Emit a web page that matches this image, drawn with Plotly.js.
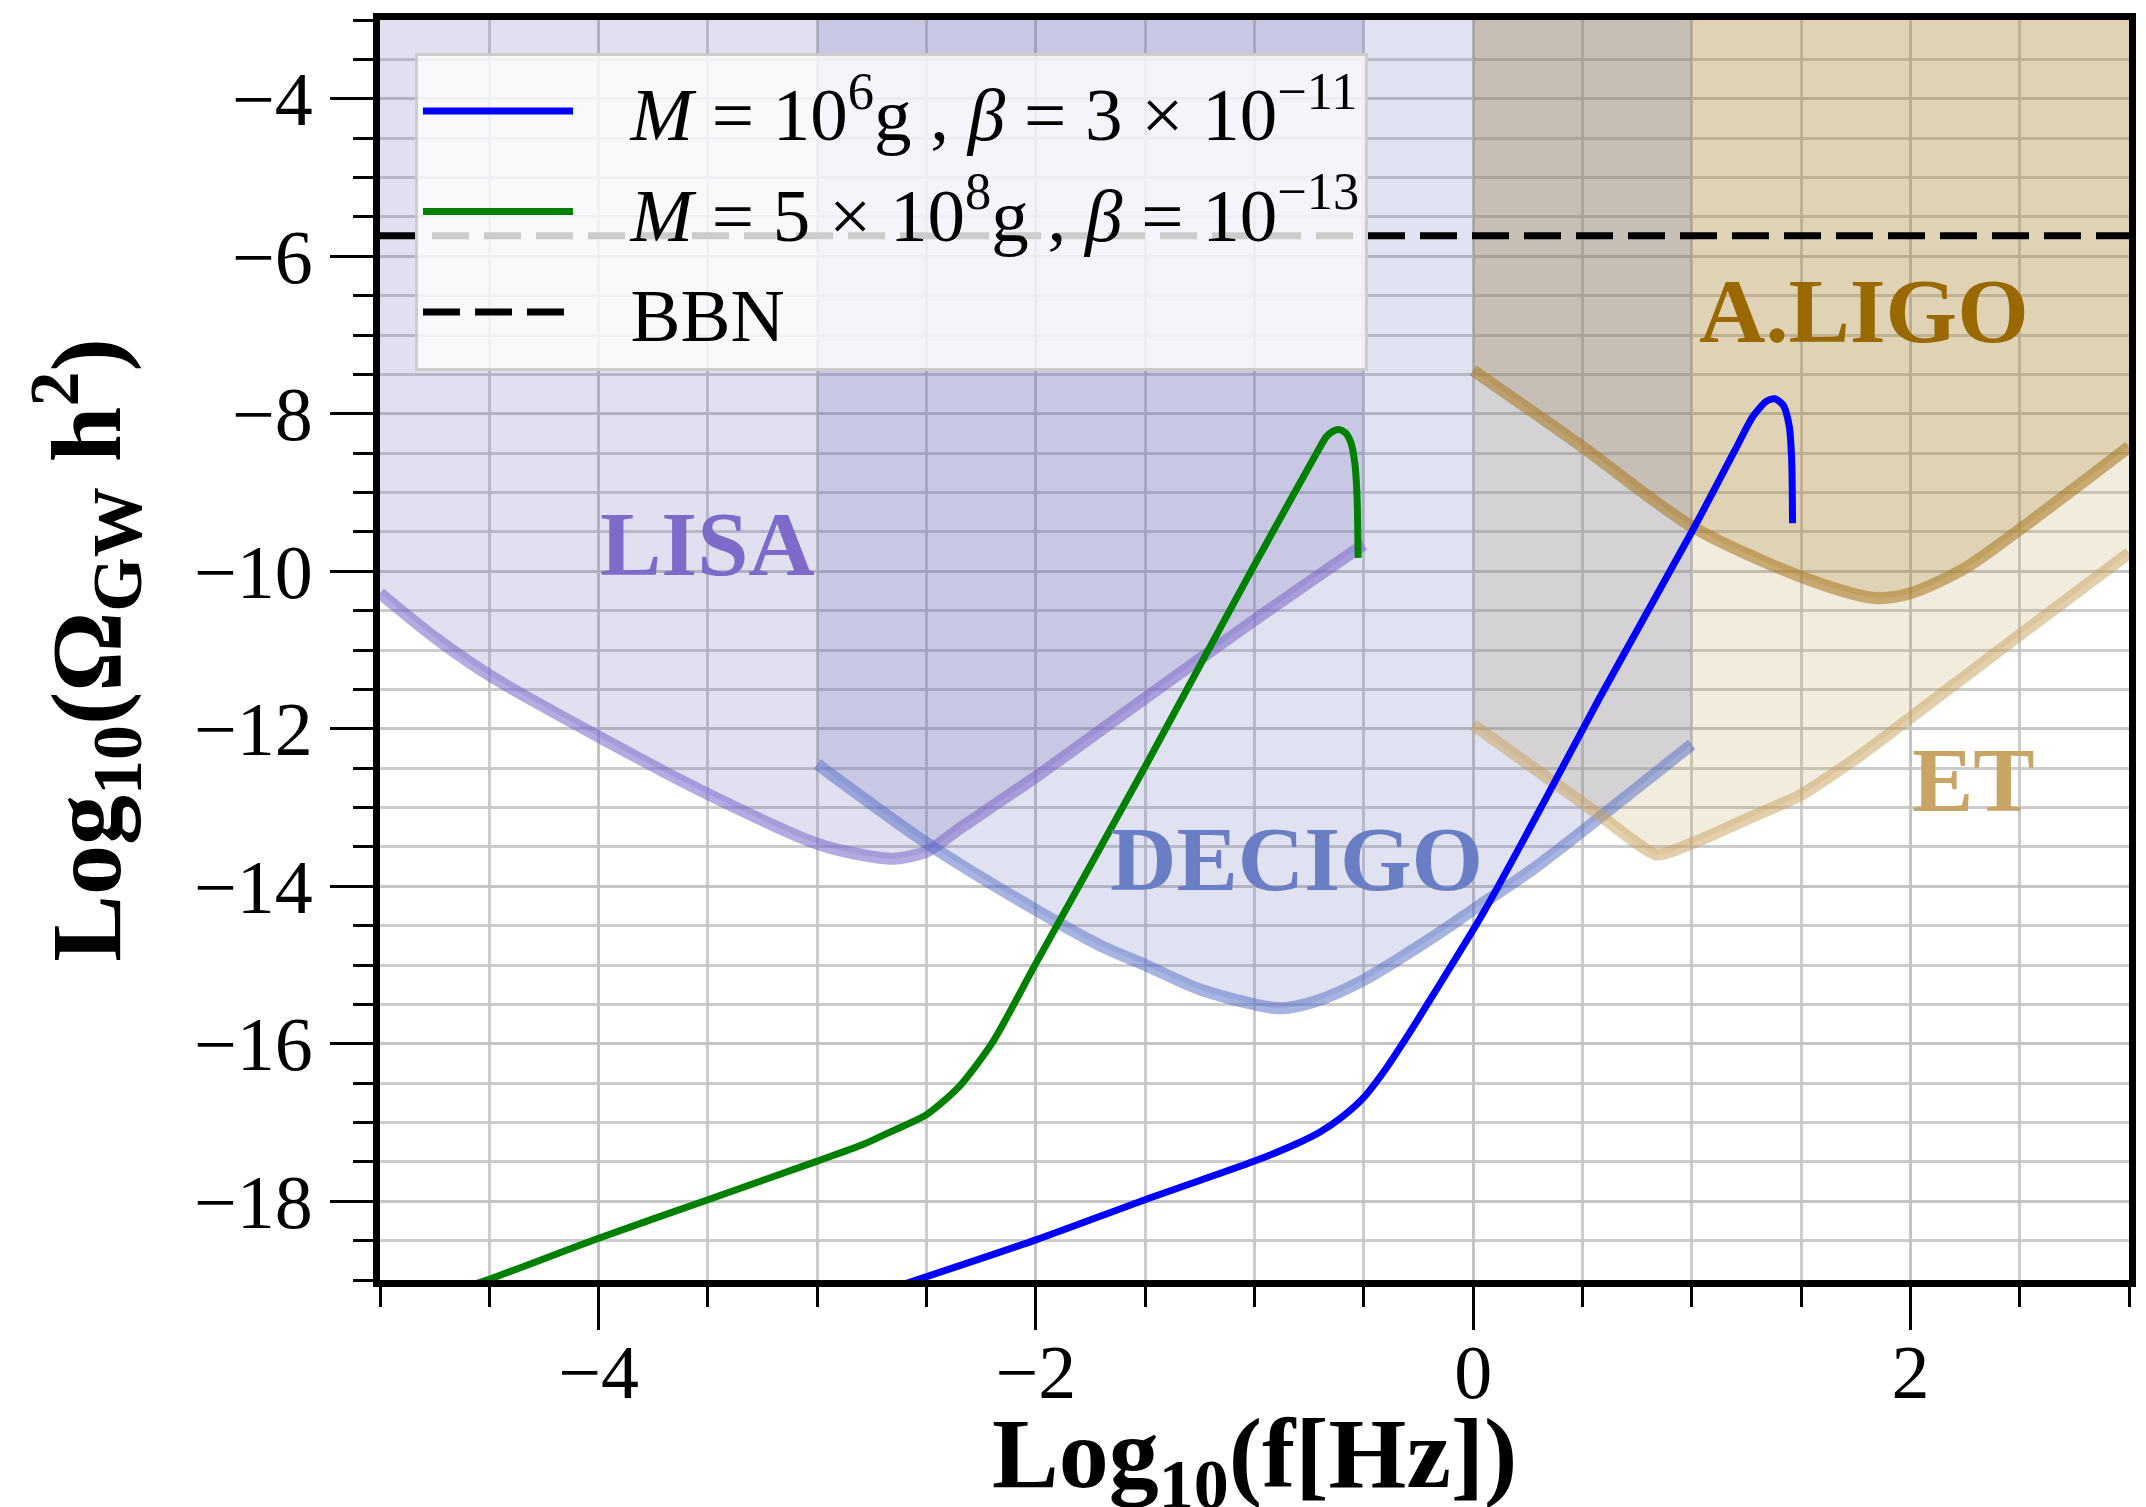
<!DOCTYPE html>
<html><head><meta charset="utf-8">
<script src="https://cdn.plot.ly/plotly-3.0.1.min.js"></script>
<style>html,body{margin:0;padding:0;background:#fff;} #chart{width:2146px;height:1507px;}</style>
</head><body><div id="chart"></div>
<script>
// ---- axis ranges (log10 units) ----
const xRange = [-5, 3];
const yRange = [-19, -3];
const xTickVals = [-4, -2, 0, 2];
const yTickVals = [-18, -16, -14, -12, -10, -8, -6, -4];

// ---- detector sensitivity curves ----
const lisaX = [-5, -4.75, -4.5, -4, -3.5, -3, -2.8, -2.65, -2.5, -2.35, -2.0, -1.5, -1.0, -0.5];
const lisaY = [-10.28, -10.84, -11.32, -12.10, -12.83, -13.46, -13.6, -13.65, -13.56, -13.27, -12.61, -11.61, -10.62, -9.66];

const decigoX = [-3, -2.5, -2.0, -1.7, -1.5, -1.25, -1.0, -0.88, -0.72, -0.5, -0.18, 0, 0.27, 0.5, 1.0];
const decigoY = [-12.45, -13.45, -14.3, -14.76, -15.0, -15.31, -15.5, -15.55, -15.46, -15.19, -14.64, -14.3, -13.79, -13.3, -12.2];

const ligoX = [0, 0.5, 1.0, 1.5, 1.84, 2.0, 2.25, 2.5, 3.0];
const ligoY = [-7.45, -8.42, -9.43, -10.07, -10.34, -10.28, -9.96, -9.47, -8.42];

const etX = [0, 0.58, 0.84, 1.04, 1.25, 1.5, 1.75, 2.0, 2.5, 3.0];
const etY = [-11.95, -13.1, -13.6, -13.41, -13.15, -12.84, -12.38, -11.86, -10.81, -9.77];

// ---- GW spectra ----
const blueX = [-2.6, -2.0, -1.5, -1.0, -0.8, -0.7, -0.6, -0.5, -0.4, -0.3, -0.183, 0.046, 0.33, 0.58, 1.006, 1.2, 1.281, 1.342, 1.38, 1.418, 1.446, 1.457, 1.461];
const blueY = [-19.05, -18.49, -17.98, -17.49, -17.26, -17.12, -16.93, -16.68, -16.32, -15.9, -15.38, -14.34, -12.9, -11.6, -9.47, -8.45, -8.03, -7.84, -7.81, -7.89, -8.16, -8.58, -9.39];

const greenX = [-4.6, -4.5, -4.0, -3.5, -3.0, -2.8, -2.65, -2.5, -2.35, -2.2, -2.0, -1.5, -1.02, -0.716, -0.671, -0.64, -0.615, -0.585, -0.56, -0.541, -0.531, -0.526];
const greenY = [-19.08, -18.99, -18.47, -17.98, -17.49, -17.29, -17.1, -16.9, -16.54, -15.99, -14.98, -12.48, -10.02, -8.5, -8.29, -8.22, -8.2, -8.24, -8.36, -8.63, -9.05, -9.83];

// ---- BBN bound ----
const bbnX = [-5, 3];
const bbnY = [-5.74, -5.74];

// ---- labels ----
const legendNames = [
  '\u2002\u2009<i>M</i> = 10<sup>6</sup>g , <i>β</i> = 3 × 10<sup>−11</sup>',
  '\u2002\u2009<i>M</i> = 5 × 10<sup>8</sup>g , <i>β</i> = 10<sup>−13</sup>',
  '\u2002\u2009BBN'
];
const xTitle = 'Log<sub>10</sub>(f[Hz])';
const yTitle = 'Log<sub>10</sub>(Ω<sub>GW</sub> h<sup>2</sup>)';
const detectorLabels = ['LISA', 'DECIGO', 'A.LIGO', 'ET'];
const detectorLabelX = [-3.5, -0.81, 1.79, 2.29];
const detectorLabelY = [-9.66, -13.66, -6.69, -12.65];

const FONT = '"Liberation Serif", "DejaVu Serif", serif';

const det = {
  LISA:   {x: lisaX,   y: lisaY,   fill: 'rgba(105,95,180,0.2)',  line: 'rgba(120,100,200,0.55)', sm: 0.8, text: '#7e6bc9'},
  DECIGO: {x: decigoX, y: decigoY, fill: 'rgba(100,110,185,0.2)', line: 'rgba(80,105,195,0.5)',   sm: 0.8, text: '#6a7ec6'},
  LIGO:   {x: ligoX,   y: ligoY,   fill: 'rgba(157,111,17,0.2)',  line: 'rgba(170,125,40,0.6)',   sm: 0.8, text: '#9a6800'},
  ET:     {x: etX,     y: etY,     fill: 'rgba(190,160,90,0.2)',  line: 'rgba(200,160,90,0.5)',   sm: 0.5, text: '#c8a564'}
};

const traces = [];
// fills first (ET, LIGO, LISA, DECIGO)
['ET', 'LIGO', 'LISA', 'DECIGO'].forEach(k => {
  const d = det[k];
  traces.push({x: d.x, y: d.x.map(() => yRange[1]), mode: 'lines', line: {width: 0}, showlegend: false, hoverinfo: 'skip'});
  traces.push({x: d.x, y: d.y, mode: 'lines', line: {width: 0, shape: 'spline', smoothing: d.sm}, fill: 'tonexty', fillcolor: d.fill, showlegend: false, hoverinfo: 'skip'});
});
// detector curves
['LISA', 'DECIGO', 'LIGO', 'ET'].forEach(k => {
  const d = det[k];
  traces.push({x: d.x, y: d.y, mode: 'lines', line: {width: 12, color: d.line, shape: 'spline', smoothing: d.sm}, showlegend: false, hoverinfo: 'skip'});
});
traces.push({x: blueX, y: blueY, mode: 'lines', name: legendNames[0], legendgroup: 'a', line: {color: '#0000ff', width: 7, shape: 'spline', smoothing: 0.7}});
traces.push({x: greenX, y: greenY, mode: 'lines', name: legendNames[1], legendgroup: 'b', line: {color: '#008000', width: 7, shape: 'spline', smoothing: 0.7}});
traces.push({x: bbnX, y: bbnY, mode: 'lines', name: legendNames[2], legendgroup: 'c', line: {color: '#000000', width: 7, dash: '37px,15px'}});

const annColors = [det.LISA.text, det.DECIGO.text, det.LIGO.text, det.ET.text];
const annotations = detectorLabels.map((t, i) => ({
  x: detectorLabelX[i], y: detectorLabelY[i], xref: 'x', yref: 'y', text: t, showarrow: false,
  font: {family: FONT, size: 92, color: annColors[i], weight: 'bold'}
}));
// x-axis title (placed as a paper annotation so it can sit as low as in the reference)
annotations.push({
  x: 0.5, y: -0.092, xref: 'paper', yref: 'paper', xanchor: 'center', yanchor: 'top',
  text: xTitle, showarrow: false,
  font: {family: FONT, size: 100, color: '#000', weight: 'bold'}
});

const gridColor = 'rgba(195,195,195,0.85)';
const axisCommon = {
  showline: true, linecolor: '#000', linewidth: 7, mirror: true,
  ticks: 'outside', ticklen: 43, tickwidth: 3, tickcolor: '#000',
  showgrid: true, gridcolor: gridColor, gridwidth: 3, zeroline: false,
  tickfont: {family: FONT, size: 76, color: '#000'},
  minor: {dtick: 0.5, tick0: 0, ticks: 'outside', ticklen: 20, tickwidth: 3, tickcolor: '#000', showgrid: true, gridcolor: gridColor, gridwidth: 3},
  automargin: false
};

const layout = {
  width: 2146, height: 1507,
  paper_bgcolor: '#fff', plot_bgcolor: '#fff',
  margin: {l: 380, r: 17, t: 20, b: 227},
  showlegend: true,
  xaxis: Object.assign({}, axisCommon, {
    range: xRange, tickmode: 'array', tickvals: xTickVals, ticklabelstandoff: -23
  }),
  yaxis: Object.assign({}, axisCommon, {
    range: yRange, tickmode: 'array', tickvals: yTickVals, ticklabelstandoff: 2,
    title: {text: yTitle, font: {family: FONT, size: 100, color: '#000', weight: 'bold'}, standoff: 42}
  }),
  legend: {
    x: 0.02, y: 0.974, xanchor: 'left', yanchor: 'top',
    bgcolor: 'rgba(255,255,255,0.8)', bordercolor: '#cccccc', borderwidth: 3,
    font: {family: FONT, size: 75, color: '#000'},
    itemwidth: 150, traceorder: 'grouped', tracegroupgap: 0
  },
  annotations: annotations
};

Plotly.newPlot('chart', traces, layout, {displayModeBar: false, responsive: false});
</script>
</body></html>
